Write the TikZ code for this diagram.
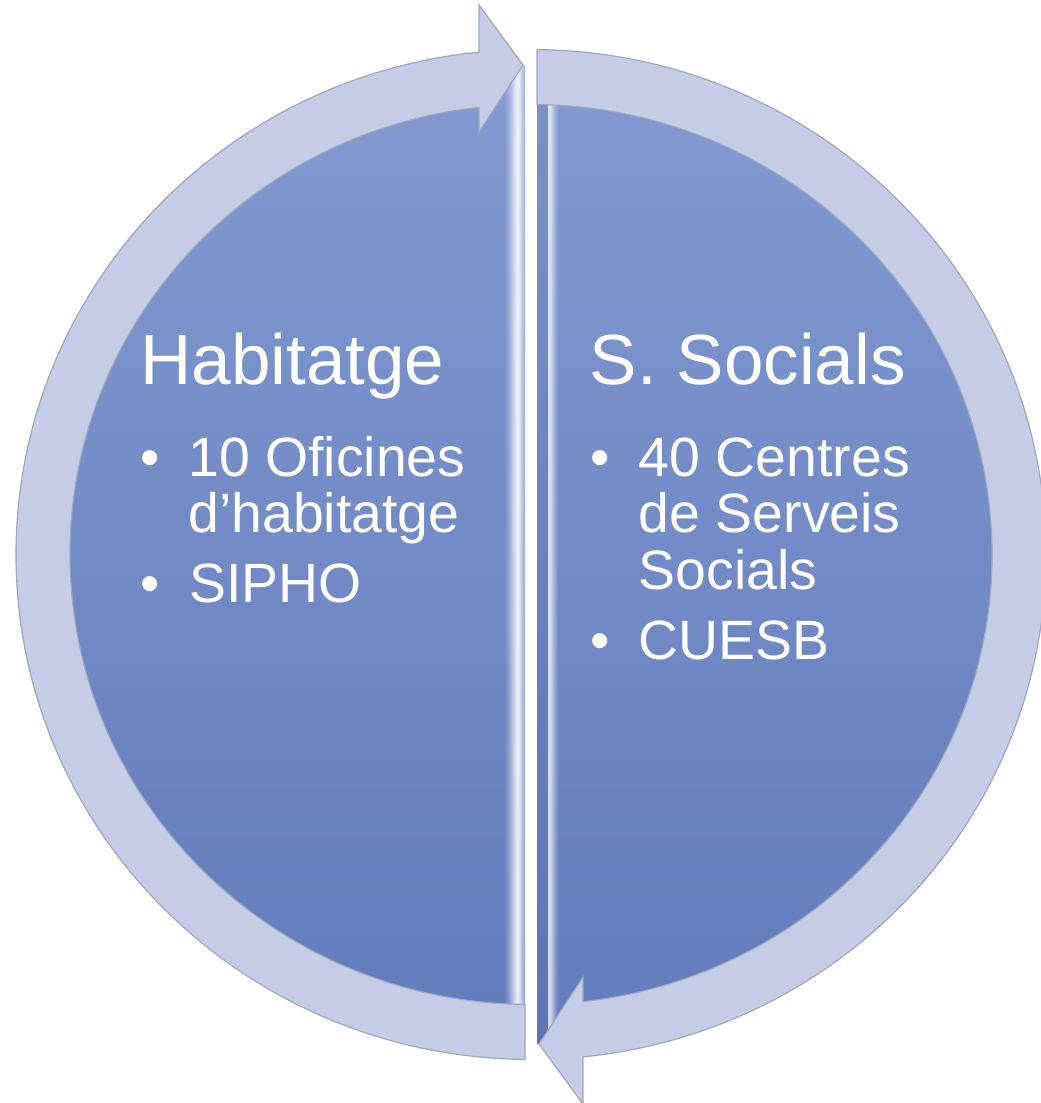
\documentclass[tikz,border=0pt]{standalone}
\usepackage{fontspec}
\setmainfont{Liberation Sans}
\definecolor{ringfill}{RGB}{197,204,229}
\definecolor{ringedge}{RGB}{158,166,192}
\definecolor{bluetop}{RGB}{130,154,208}
\definecolor{bluebot}{RGB}{98,123,187}
\begin{document}
\begin{tikzpicture}[x=0.5pt,y=0.5pt,
  ringpiece/.style={fill=ringfill, draw=ringedge, line width=0.6pt, line join=miter},
  halfdisk/.style={top color=bluetop, bottom color=bluebot},
  heading/.style={text=white, font=\fontsize{35.5}{42}\selectfont, inner sep=0pt, anchor=base west},
  itemtext/.style={text=white, font=\fontsize{27.7}{33}\selectfont, inner sep=0pt, anchor=base west},
  bulletmark/.style={text=white, font=\fontsize{27.7}{33}\selectfont, inner sep=0pt, anchor=base}]
\useasboundingbox (0,0) rectangle (1040,1103);
\coordinate (C) at (531,548.5);

% blue half disks
\begin{scope}
  \clip (0,0) rectangle (525,1103);
  \shade[halfdisk] (C) ellipse [x radius=490, y radius=489.5];
\end{scope}
\begin{scope}
  \clip (537,0) rectangle (1040,1103);
  \shade[halfdisk] (C) ellipse [x radius=490, y radius=489.5];
\end{scope}

% bevel strips along the straight edges (stepwise gradients)
\begin{scope}
  \clip (C) ellipse [x radius=490, y radius=489.5];
  \foreach \x/\o in {505/0.05,506/0.1,507/0.15,508/0.2,509/0.27,510/0.34,511/0.42,512/0.5,513/0.58,514/0.66,515/0.74,516/0.8,517/0.85,518/0.85,519/0.8,520/0.7,521/0.6,522/0.5,523/0.4,524/0.35}
    \fill[white, fill opacity=\o] (\x,0) rectangle (\x+1,1103);
  \fill[black, fill opacity=0.05] (537,0) rectangle (548,1103);
  \foreach \x/\o in {548/0.7,549/0.72,550/0.7,551/0.62,552/0.52,553/0.42,554/0.32,555/0.23,556/0.15,557/0.09,558/0.04}
    \fill[white, fill opacity=\o] (\x,0) rectangle (\x+1,1103);
\end{scope}

% left ring piece (arrow pointing right at the top)
\begin{scope}[shift={(531,548.5)}]
  \path[ringpiece] (-52,549.5) -- (-8,489.5) -- (-52,422.5)
    -- (96.48:461 and 450) arc[start angle=96.48, end angle=269.25, x radius=461, y radius=450]
    -- (269.33:515 and 505) arc[start angle=269.33, end angle=95.8, x radius=515, y radius=505]
    -- cycle;
\end{scope}
% right ring piece (arrow pointing left at the bottom)
\begin{scope}[shift={(531,548.5)}, rotate=180]
  \path[ringpiece] (-52,549.5) -- (-8,489.5) -- (-52,422.5)
    -- (96.48:461 and 450) arc[start angle=96.48, end angle=269.25, x radius=461, y radius=450]
    -- (269.33:515 and 505) arc[start angle=269.33, end angle=95.8, x radius=515, y radius=505]
    -- cycle;
\end{scope}

% left texts
\node[heading] (h1) at (140,718) {Habitatge};
\node[bulletmark] (b1) at (150,626) {•};
\node[itemtext] (t1a) at (188,626) {10 Oficines};
\node[itemtext] (t1b) at (188,570) {d’habitatge};
\node[bulletmark] (b2) at (150,500) {•};
\node[itemtext] (t2) at (189,500) {SIPHO};

% right texts
\node[heading] (h2) at (589.5,718) {S. Socials};
\node[bulletmark] (b3) at (600,626) {•};
\node[itemtext] (t3a) at (638.5,626) {40 Centres};
\node[itemtext] (t3b) at (638.5,570) {de Serveis};
\node[itemtext] (t3c) at (638.5,513) {Socials};
\node[bulletmark] (b4) at (600,443) {•};
\node[itemtext] (t4) at (638.5,443) {CUESB};
\end{tikzpicture}
\end{document}
